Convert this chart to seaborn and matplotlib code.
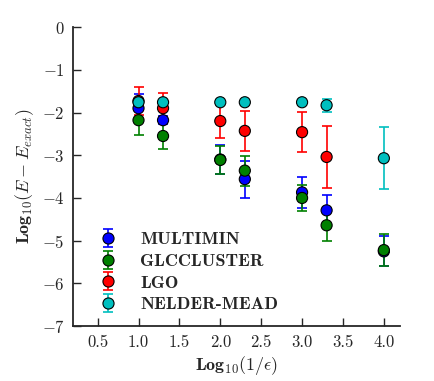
import numpy as np
import pandas as pd
import matplotlib
matplotlib.use("Agg")
import matplotlib.pyplot as plt
import seaborn as sns
from matplotlib.lines import Line2D

x_vals = [1.0, 1.3, 2.0, 2.3, 3.0, 3.3, 4.0]
methods = ["MULTIMIN", "GLCCLUSTER", "LGO", "NELDER-MEAD"]
multimin_y = [-1.90, -2.18, -3.10, -3.56, -3.87, -4.29, -5.25]
multimin_e = [0.33, 0.10, 0.34, 0.43, 0.37, 0.36, 0.35]
glc_y = [-2.18, -2.55, -3.11, -3.36, -4.00, -4.64, -5.22]
glc_e = [0.35, 0.31, 0.32, 0.35, 0.30, 0.37, 0.38]
lgo_x = [1.0, 1.3, 2.0, 2.3, 3.0, 3.3]
lgo_y = [-1.73, -1.90, -2.20, -2.43, -2.46, -3.04]
lgo_e = [0.32, 0.35, 0.40, 0.47, 0.47, 0.73]
nm_y = [-1.76, -1.76, -1.76, -1.76, -1.76, -1.83, -3.07]
nm_e = [0.05, 0.05, 0.03, 0.03, 0.03, 0.15, 0.73]
colors = ["#0000ff", "#008000", "#ff0000", "#00bfbf"]
x_ticks = [0.5, 1.0, 1.5, 2.0, 2.5, 3.0, 3.5, 4.0]
y_ticks = [0, -1, -2, -3, -4, -5, -6, -7]

series = [
    (x_vals, multimin_y, multimin_e),
    (x_vals, glc_y, glc_e),
    (lgo_x, lgo_y, lgo_e),
    (x_vals, nm_y, nm_e),
]

rows = []
for m, (xs, ys, es) in zip(methods, series):
    for xv, yv, ev in zip(xs, ys, es):
        rows.append({"method": m, "x": xv, "y": yv, "err": ev})
df = pd.DataFrame(rows)

sns.set_style("ticks")
plt.rcParams["font.family"] = ["cmr10"]
plt.rcParams["mathtext.fontset"] = "cm"
plt.rcParams["axes.formatter.use_mathtext"] = True
plt.rcParams["axes.unicode_minus"] = True

fig = plt.figure(figsize=(4.35, 3.81), dpi=100)
ax = fig.add_axes([0.168, 0.144, 0.752, 0.785])

handles = []
for i, (m, c) in enumerate(zip(methods, colors)):
    d = df[df["method"] == m]
    cont = ax.errorbar(d["x"], d["y"], yerr=d["err"], fmt="none", ecolor=c,
                       elinewidth=1.2, capsize=3.6, capthick=1.2, zorder=2 + i)
    mk = Line2D([], [], marker="o", color=c, markeredgecolor="k",
                markeredgewidth=0.8, markersize=8, linestyle="none")
    handles.append((cont, mk))

sns.scatterplot(data=df, x="x", y="y", hue="method", hue_order=methods,
                palette=colors, s=64, edgecolor="k", linewidth=0.8,
                legend=False, ax=ax, zorder=10)

ax.set_xlim(0.2, 4.2)
ax.set_ylim(-7, 0)
ax.set_xticks(x_ticks)
ax.set_xticklabels([f"{t:.1f}" for t in x_ticks])
ax.set_yticks(y_ticks)
ax.set_yticklabels([f"$-{abs(t)}$" if t != 0 else "$0$" for t in y_ticks])
ax.tick_params(direction="in", length=6, width=1, labelsize=12, pad=6)
for s in ["left", "bottom"]:
    ax.spines[s].set_linewidth(1.3)
sns.despine(ax=ax)
ax.set_xlabel(r"$\mathbf{Log}_{10}(1/\epsilon)$", fontsize=13, labelpad=3)
ax.set_ylabel(r"$\mathbf{Log}_{10}(E-E_{exact})$", fontsize=13, labelpad=4)

leg = ax.legend(handles, methods, loc="lower left", bbox_to_anchor=(0.029, -0.008),
                frameon=False, handlelength=1.0, handletextpad=1.3,
                labelspacing=0.33, prop={"family": "cmb10", "size": 13})

fig.savefig("out.png", dpi=100)
